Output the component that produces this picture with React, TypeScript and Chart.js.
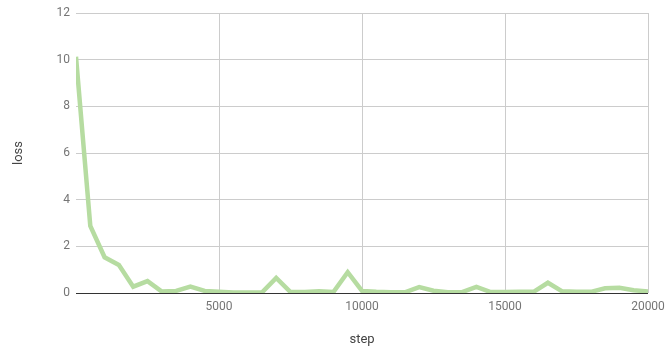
import React, { useEffect, useRef } from "react";
import { Chart, registerables } from "chart.js";

Chart.register(...registerables);

const steps = [
  0, 500, 1000, 1500, 2000, 2500, 3000, 3500, 4000, 4500,
  5000, 5500, 6000, 6500, 7000, 7500, 8000, 8500, 9000, 9500,
  10000, 10500, 11000, 11500, 12000, 12500, 13000, 13500, 14000, 14500,
  15000, 15500, 16000, 16500, 17000, 17500, 18000, 18500, 19000, 19500,
  20000,
];
const loss = [
  10.13, 2.87, 1.53, 1.2, 0.27, 0.51, 0.06, 0.09, 0.27, 0.09,
  0.05, 0.02, 0.02, 0.02, 0.65, 0.04, 0.04, 0.08, 0.04, 0.89,
  0.09, 0.05, 0.03, 0.03, 0.25, 0.1, 0.03, 0.04, 0.26, 0.04,
  0.04, 0.05, 0.05, 0.44, 0.07, 0.05, 0.05, 0.2, 0.22, 0.12,
  0.06,
];
const xTicks = [5000, 10000, 15000, 20000];
const yTicks = [0, 2, 4, 6, 8, 10, 12];

export default function App() {
  const ref = useRef<HTMLCanvasElement>(null);
  useEffect(() => {
    document.body.style.margin = "0";
    const ctx = ref.current!;
    const chart = new Chart(ctx, {
      type: "line",
      data: {
        datasets: [
          {
            label: "loss",
            data: steps.map((s, i) => ({ x: s, y: loss[i] })),
            borderColor: "#b6dca1",
            borderWidth: 4.5,
            pointRadius: 0,
            tension: 0,
            fill: false,
            borderJoinStyle: "miter",
          },
        ],
      },
      options: {
        animation: false,
        responsive: false,
        maintainAspectRatio: false,
        layout: { padding: { top: 13, right: 19, left: 0, bottom: 0 } },
        plugins: { legend: { display: false }, tooltip: { enabled: false } },
        scales: {
          x: {
            type: "linear",
            min: 0,
            max: 20000,
            afterBuildTicks: (s: any) => {
              s.ticks = [{ value: 0 }, ...xTicks.map((v) => ({ value: v }))];
            },
            afterFit: (s: any) => {
              s.height = 59;
              s.paddingRight = 0;
              s.paddingLeft = 0;
            },
            ticks: {
              color: "#757575",
              font: { family: "Roboto", size: 12 },
              padding: 7,
              maxRotation: 0,
              callback: (v: any) => (v === 0 ? "" : String(v)),
            },
            grid: {
              drawTicks: false,
              color: (c: any) => (c.tick && c.tick.value === 0 ? "rgba(0,0,0,0)" : "#cccccc"),
              lineWidth: 1,
            },
            border: { display: false },
            title: {
              display: true,
              text: "step",
              color: "#444444",
              font: { family: "Roboto", size: 13 },
              padding: { top: 4, bottom: 4 },
            },
          },
          y: {
            min: 0,
            max: 12,
            afterBuildTicks: (s: any) => {
              s.ticks = yTicks.map((v) => ({ value: v }));
            },
            afterFit: (s: any) => {
              s.width = 76;
              s.paddingTop = 0;
              s.paddingBottom = 0;
            },
            ticks: {
              color: "#757575",
              font: { family: "Roboto", size: 12 },
              padding: 6,
            },
            grid: {
              drawTicks: false,
              color: (c: any) => (c.tick && c.tick.value === 0 ? "#333333" : "#cccccc"),
              lineWidth: 1,
            },
            border: { display: false },
            title: {
              display: true,
              text: "loss",
              color: "#444444",
              font: { family: "Roboto", size: 13 },
              padding: { top: 11, bottom: 4 },
            },
          },
        },
      },
    });
    return () => chart.destroy();
  }, []);
  return (
    <div style={{ width: 667, height: 352 }}>
      <canvas ref={ref} width={667} height={352} style={{ width: 667, height: 352 }} />
    </div>
  );
}
